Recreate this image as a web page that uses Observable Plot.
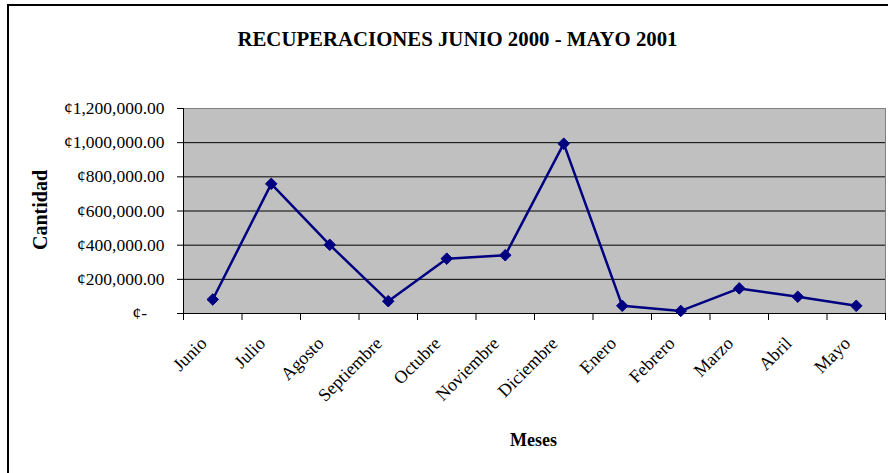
<!DOCTYPE html>
<html>
<head>
<meta charset="utf-8">
<script src="https://cdn.jsdelivr.net/npm/d3@7"></script>
<script src="https://cdn.jsdelivr.net/npm/@observablehq/plot@0.6"></script>
<style>
  html, body { margin: 0; padding: 0; background: #fff; }
  #wrap { position: relative; width: 888px; height: 473px; overflow: hidden; }
  #border { position: absolute; left: 7px; top: 4px; width: 900px; height: 500px;
            border-left: 2px solid #000; border-top: 2px solid #000; pointer-events: none; }
</style>
</head>
<body>
<div id="wrap"><div id="chart"></div><div id="border"></div></div>
<script>
const title = "RECUPERACIONES JUNIO 2000 - MAYO 2001";
const xLabel = "Meses";
const yLabel = "Cantidad";
const months = ["Junio", "Julio", "Agosto", "Septiembre", "Octubre", "Noviembre",
                "Diciembre", "Enero", "Febrero", "Marzo", "Abril", "Mayo"];
const values = [82000, 759000, 402000, 72000, 321000, 341000,
                994000, 45000, 15000, 147000, 98000, 45000];
const yTicks = [0, 200000, 400000, 600000, 800000, 1000000, 1200000];

const data = months.map((m, i) => ({month: m, idx: i, value: values[i]}));
const fmt = d3.format(",.2f");
const yFormat = v => v === 0 ? "\u00a2-\u2007\u2007" : "\u00a2" + fmt(v);
const navy = "#000080";

const chart = Plot.plot({
  width: 888,
  height: 473,
  marginLeft: 183,
  marginRight: 3,
  marginTop: 108,
  marginBottom: 160,
  style: {fontFamily: "'Liberation Serif', 'Times New Roman', serif", fontSize: "17px", background: "#fff", color: "#000"},
  x: {type: "linear", domain: [0, months.length]},
  y: {domain: [0, 1200000]},
  marks: [
    Plot.frame({fill: "#C0C0C0", stroke: "#808080"}),
    Plot.ruleY(yTicks.filter(v => v > 0 && v < 1200000), {stroke: "#000", strokeWidth: 1}),
    Plot.ruleY([0], {stroke: "#000"}),
    Plot.ruleX([0], {stroke: "#000"}),
    Plot.axisY({ticks: yTicks, tickSize: 6, tickPadding: 13, tickFormat: yFormat,
                label: null, fontSize: 17.5, stroke: "#000"}),
    Plot.axisX({ticks: d3.range(months.length + 1), tickSize: 7, tickFormat: () => "",
                label: null, stroke: "#000"}),
    Plot.text(data, {x: d => d.idx + 0.5, text: "month", frameAnchor: "bottom", dx: -5, dy: 31,
                     rotate: -45, textAnchor: "end", lineAnchor: "bottom", fontSize: 18, fill: "#000"}),
    Plot.line(data, {x: d => d.idx + 0.5, y: "value", stroke: navy, strokeWidth: 2.5}),
    Plot.dot(data, {x: d => d.idx + 0.5, y: "value", symbol: "diamond2", r: 5.2, fill: navy, stroke: navy, strokeWidth: 1}),
    Plot.text([title], {frameAnchor: "top", dx: -77, dy: -63, lineAnchor: "bottom",
                        fontSize: 20.8, fontWeight: "bold", fill: "#000"}),
    Plot.text([xLabel], {frameAnchor: "bottom", dx: -1, dy: 132, lineAnchor: "bottom",
                         fontSize: 18, fontWeight: "bold", fill: "#000"}),
    Plot.text([yLabel], {frameAnchor: "left", dx: -143, dy: -1, rotate: -90, lineAnchor: "middle",
                         textAnchor: "middle", fontSize: 20, fontWeight: "bold", fill: "#000"})
  ]
});
document.getElementById("chart").appendChild(chart);
</script>
</body>
</html>
